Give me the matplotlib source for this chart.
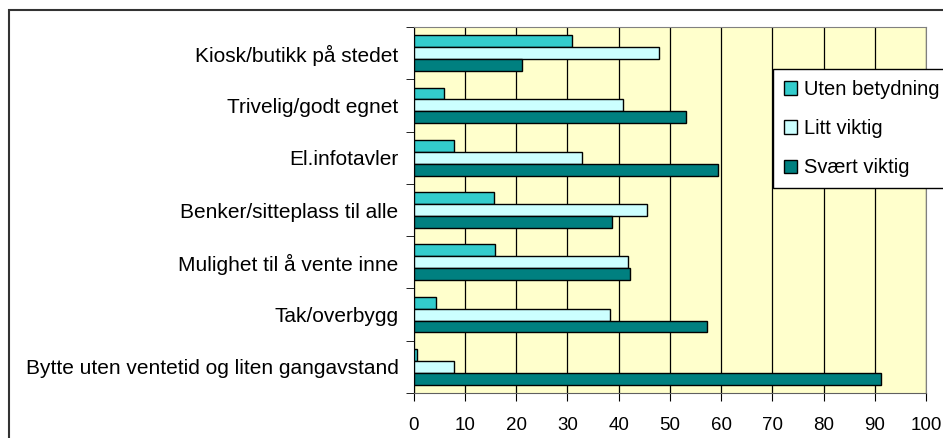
import matplotlib.pyplot as plt
import matplotlib.patches as mpatches
import numpy as np

# data (top to bottom as shown)
categories = ['Kiosk/butikk på stedet', 'Trivelig/godt egnet', 'El.infotavler',
              'Benker/sitteplass til alle', 'Mulighet til å vente inne',
              'Tak/overbygg', 'Bytte uten ventetid og liten gangavstand']
uten_betydning = [30.9, 5.9, 7.8, 15.6, 15.9, 4.4, 0.6]
litt_viktig = [47.8, 40.9, 32.8, 45.6, 41.9, 38.4, 7.9]
svaert_viktig = [21.2, 53.1, 59.4, 38.8, 42.2, 57.2, 91.2]
x_ticks = [0, 10, 20, 30, 40, 50, 60, 70, 80, 90, 100]

plt.rcParams['font.family'] = ['Liberation Sans', 'DejaVu Sans']

fig = plt.figure(figsize=(9.43, 4.38), dpi=100)
ax = fig.add_axes([413.7 / 943, 45 / 438, (926 - 413.7) / 943, 366 / 438])
ax.set_facecolor('#FFFFCC')

n = len(categories)
y = np.arange(n)[::-1]  # first category at the top
h = 0.228

ax.barh(y + h, uten_betydning, h, color='#33CCCC', edgecolor='black', linewidth=1,
        label='Uten betydning', zorder=3)
ax.barh(y, litt_viktig, h, color='#CCFFFF', edgecolor='black', linewidth=1,
        label='Litt viktig', zorder=3)
ax.barh(y - h, svaert_viktig, h, color='#008080', edgecolor='black', linewidth=1,
        label='Svært viktig', zorder=3)

ax.set_xlim(0, 100)
ax.set_ylim(-0.5, n - 0.5)
ax.set_xticks(x_ticks)
ax.set_xticklabels([str(v) for v in x_ticks], fontsize=13.5)
ax.set_yticks(y)
ax.set_yticklabels(categories, fontsize=15)
ax.tick_params(axis='y', which='major', length=0, pad=11)
ax.set_yticks(np.arange(n + 1) - 0.5, minor=True)
ax.tick_params(axis='y', which='minor', length=6, direction='out', color='black')
ax.tick_params(axis='x', length=6, direction='out', color='black', pad=11)

ax.grid(axis='x', color='black', linewidth=0.9, zorder=1)
for s in ['top', 'right']:
    ax.spines[s].set_color('#808080')
ax.spines['left'].set_color('black')
ax.spines['bottom'].set_color('#606060')

leg = ax.legend(loc='upper left', bbox_to_anchor=(773 / 943, 1 - 69 / 438),
                bbox_transform=fig.transFigure, prop={'size': 14.5}, frameon=True,
                fancybox=False, edgecolor='black', framealpha=1,
                borderaxespad=0, handlelength=0.65, handleheight=0.65,
                handletextpad=0.35, labelspacing=1.0, borderpad=0.55)
leg.get_frame().set_linewidth(1)
leg.set_zorder(10)

# outer chart frame (runs off the right and bottom edge)
frame = mpatches.Rectangle((9 / 943, -0.1), 1.2, 1 - 10 / 438 + 0.1,
                           transform=fig.transFigure, fill=False,
                           edgecolor='#333333', linewidth=1.5, clip_on=False)
fig.patches.append(frame)

fig.savefig('out.png', dpi=100)
